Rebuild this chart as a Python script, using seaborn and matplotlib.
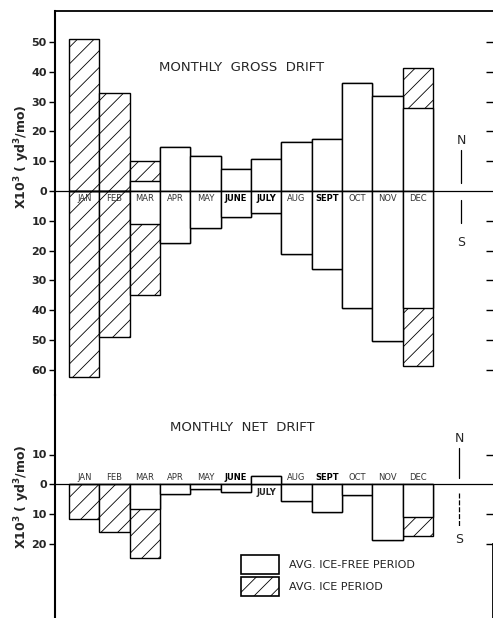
import numpy as np
import pandas as pd
import matplotlib
matplotlib.use("Agg")
import matplotlib.pyplot as plt
import matplotlib.patches as mpatches
import seaborn as sns

# ---------------- data (10^3 yd^3 / month) ----------------
months = ["JAN", "FEB", "MAR", "APR", "MAY", "JUNE", "JULY",
          "AUG", "SEPT", "OCT", "NOV", "DEC"]
bold_months = ["JUNE", "JULY", "SEPT"]

# gross northward drift: ice-free part and extra part during ice period
north_ice_free = [0.0, 0.0, 3.4, 14.9, 11.6, 7.3, 10.6, 16.4, 17.6, 36.1, 32.0, 27.7]
north_ice = [50.9, 32.8, 6.8, 0, 0, 0, 0, 0, 0, 0, 0, 13.7]
# gross southward drift (magnitudes)
south_ice_free = [0.0, 0.0, 11.2, 17.3, 12.3, 8.6, 7.5, 21.1, 26.3, 39.3, 50.2, 39.2]
south_ice = [62.3, 49.1, 23.7, 0, 0, 0, 0, 0, 0, 0, 0, 19.4]
# net drift (positive = north)
net_ice_free = [0.0, 0.0, -8.4, -3.4, -1.7, -2.7, 2.9, -5.6, -9.4, -3.6, -18.7, -11.1]
net_ice = [-11.7, -16.1, -16.2, 0, 0, 0, 0, 0, 0, 0, 0, -6.2]

gross_ticks_up = [0, 10, 20, 30, 40, 50]
gross_ticks_down = [10, 20, 30, 40, 50, 60]
net_ticks = [10, 0, -10, -20]

# ---------------- figure ----------------
W, H = 493, 618
DPI = 100
sns.set_theme(style="white")
plt.rcParams["font.family"] = ["DejaVu Sans"]
plt.rcParams["hatch.linewidth"] = 0.6
fig = plt.figure(figsize=(W / DPI, H / DPI), dpi=DPI)
fig.patch.set_facecolor("white")

px_per_unit = 2.98
bar_w_px = 30.27
x0_px = 84.5          # centre of first bar
ax_left_px = 55
split_px = 395

xl = -0.5 - (69 - ax_left_px) / bar_w_px
xr = 11.5 + (W - 433) / bar_w_px

def fx(v):
    return v / W

def fy(v):
    return 1 - v / H

ax1 = fig.add_axes([fx(ax_left_px), fy(split_px), 1 - fx(ax_left_px), (split_px - 11) / H])
ax2 = fig.add_axes([fx(ax_left_px), 0, 1 - fx(ax_left_px), (H - split_px) / H])

df = pd.DataFrame({
    "month": months,
    "n_free": north_ice_free,
    "n_tot": np.add(north_ice_free, north_ice),
    "s_free": -np.asarray(south_ice_free),
    "s_tot": -(np.add(south_ice_free, south_ice)),
    "net_free": net_ice_free,
    "net_tot": np.add(net_ice_free, net_ice),
})

HATCH = "//"
LW = 1.0

def draw(ax, tot_col, free_col):
    sns.barplot(data=df, x="month", y=tot_col, order=months, color="white",
                edgecolor="black", linewidth=LW, hatch=HATCH, width=1.0,
                saturation=1, ax=ax, zorder=2)
    sns.barplot(data=df, x="month", y=free_col, order=months, color="white",
                edgecolor="black", linewidth=LW, width=1.0,
                saturation=1, ax=ax, zorder=3)

draw(ax1, "n_tot", "n_free")
draw(ax1, "s_tot", "s_free")
draw(ax2, "net_tot", "net_free")

# ---------------- axes styling ----------------
top1 = (191 - 11) / px_per_unit
bot1 = -(split_px - 191) / px_per_unit
ax1.set_xlim(xl, xr)
ax1.set_ylim(bot1, top1)
zero2 = 484.3
ax2.set_xlim(xl, xr)
ax2.set_ylim(-(H - zero2) / px_per_unit, (zero2 - split_px) / px_per_unit)

for ax in (ax1, ax2):
    ax.set_facecolor("none")
    ax.set_xlabel("")
    ax.set_ylabel("")
    ax.set_xticks([])
    ax.axhline(0, color="black", lw=0.9, zorder=4)
    for s in ax.spines.values():
        s.set_color("black")
    ax.spines["left"].set_linewidth(1.5)
    ax.tick_params(axis="y", which="both", left=True, direction="out",
                   length=4, width=1.0, color="black", pad=2,
                   labelsize=8)

ax1.spines["bottom"].set_visible(False)
ax1.spines["right"].set_visible(False)
ax1.spines["top"].set_linewidth(1.3)
ax2.spines["top"].set_visible(False)
ax2.spines["bottom"].set_visible(False)
ax2.spines["right"].set_linewidth(1.3)
ax2.spines["right"].set_bounds(ax2.get_ylim()[0], -20)

yt1 = gross_ticks_up + [-v for v in gross_ticks_down]
ax1.set_yticks(yt1)
ax1.set_yticklabels([str(abs(v)) for v in yt1], fontweight="bold", fontsize=8)
ax2.set_yticks(net_ticks)
ax2.set_yticklabels([str(abs(v)) for v in net_ticks], fontweight="bold", fontsize=8)

# right-hand ticks (inward)
r1 = ax1.twinx()
r1.set_ylim(ax1.get_ylim())
r1.set_yticks([v for v in yt1 if v != 0])
r1.set_yticklabels([])
r1.tick_params(axis="y", right=True, direction="in", length=5, width=1.0, color="black")
for s in r1.spines.values():
    s.set_visible(False)
r1.grid(False)

r2 = ax2.twinx()
r2.set_ylim(ax2.get_ylim())
r2.set_yticks([10, -10, -20])
r2.set_yticklabels([])
r2.tick_params(axis="y", right=True, direction="in", length=5, width=1.0, color="black")
for s in r2.spines.values():
    s.set_visible(False)
r2.grid(False)

# month labels
for i, m in enumerate(months):
    bold = m in bold_months
    ax1.text(i, -2.4, m, ha="center", va="center", fontsize=6,
             fontweight="bold" if bold else "normal", zorder=5,
             color="black" if bold else "#333333")
    if m == "JULY":
        ax2.text(i, -2.7, m, ha="center", va="center", fontsize=6,
                 fontweight="bold", zorder=5)
    else:
        ax2.text(i, 2.4, m, ha="center", va="center", fontsize=6,
                 fontweight="bold" if bold else "normal", zorder=5,
                 color="black" if bold else "#333333")

# titles
ax1.text(5.2, 41.5, "MONTHLY  GROSS  DRIFT", ha="center", va="center",
         fontsize=9.5, zorder=5)
ax2.text(5.2, 19.0, "MONTHLY  NET  DRIFT", ha="center", va="center",
         fontsize=9.5, zorder=5)

# N / S indicators
xa = (461 - x0_px) / bar_w_px
ax1.text(xa, 16.8, "N", ha="center", va="center", fontsize=9)
ax1.plot([xa, xa], [13.8, 2.7], color="black", lw=0.9)
ax1.text(xa, -17.2, "S", ha="center", va="center", fontsize=9)
ax1.plot([xa, xa], [-3.0, -10.7], color="black", lw=0.9)
xb = (459 - x0_px) / bar_w_px
ax2.text(xb, 15.5, "N", ha="center", va="center", fontsize=9)
ax2.plot([xb, xb], [12.2, 2.1], color="black", lw=0.9)
ax2.text(xb, -18.4, "S", ha="center", va="center", fontsize=9)
ax2.plot([xb, xb], [-2.9, -14.3], color="black", lw=0.9, ls=(0, (4, 1.5)))

# y labels
ylab = r"X10$^{\mathbf{3}}$ ( yd$^{\mathbf{3}}$/mo)"
fig.text(22 / W, fy(157), ylab, rotation=90, ha="center", va="center",
         fontsize=9, fontweight="bold")
fig.text(22 / W, fy(497), ylab, rotation=90, ha="center", va="center",
         fontsize=9, fontweight="bold")

# legend
handles = [
    mpatches.Patch(facecolor="white", edgecolor="black", linewidth=1.2,
                   label="AVG. ICE-FREE PERIOD"),
    mpatches.Patch(facecolor="white", edgecolor="black", linewidth=1.2,
                   hatch=HATCH, label="AVG. ICE PERIOD"),
]
leg = ax2.legend(handles=handles, loc="upper left",
                 bbox_to_anchor=(fx(241), fy(555)), bbox_transform=fig.transFigure,
                 frameon=False, fontsize=8, handlelength=3.4, handleheight=2.2,
                 handletextpad=0.9, labelspacing=0.3, borderpad=0,
                 borderaxespad=0)
for t in leg.get_texts():
    t.set_color("#222222")

fig.savefig("out.png", dpi=DPI, facecolor="white")
